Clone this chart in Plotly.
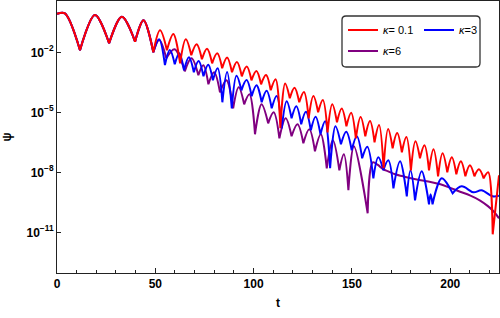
import plotly.graph_objects as go

# ---------------- data (t, log10 psi) ----------------
# "crest" = smooth points (maxima / smooth parts), "notch" = sharp minima of |psi|
red_crest_t = [0, 4.0, 19.3, 33.0, 44.0, 52.4, 59.2, 65.5, 71.0, 76.3, 81.5, 86.5, 91.5, 96.5,
               101.4, 106.3, 111.2, 116.0, 120.8, 125.6, 130.4, 135.2, 140.0, 144.8, 149.6,
               154.4, 159.2, 163.8, 168.4, 173.0, 177.7, 182.3, 186.9, 191.5, 196.1, 200.8,
               205.4, 210.0, 214.6, 219.3, 224.8]
red_crest_log = [-0.08, -0.05, -0.13, -0.22, -0.40, -0.90, -1.08, -1.35, -1.60, -1.82, -2.05,
                 -2.26, -2.48, -2.71, -2.93, -3.14, -3.35, -3.56, -3.77, -3.98, -4.19, -4.39,
                 -4.60, -4.81, -5.02, -5.23, -5.44, -5.64, -5.84, -6.04, -6.24, -6.45, -6.65,
                 -6.85, -7.05, -7.25, -7.45, -7.65, -7.85, -8.00, -8.15]
red_notch_t = [11.7, 26.5, 39.7, 49.0, 55.9, 62.6, 68.3, 73.7, 78.9, 84.0, 89.0, 94.0, 98.9,
               103.8, 108.7, 113.6, 118.4, 123.2, 128.0, 132.8, 137.6, 142.4, 147.2, 152.0,
               156.8, 161.5, 166.1, 170.7, 175.4, 180.0, 184.6, 189.2, 193.8, 198.5, 203.1,
               207.7, 212.3, 217.0, 221.6]
red_notch_log = [-1.90, -1.55, -1.47, -2.00, -1.90, -2.55, -2.15, -2.35, -2.55, -2.80, -3.00,
                 -3.20, -3.40, -3.60, -3.90, -5.80, -4.30, -4.50, -5.30, -5.00, -6.00, -5.50,
                 -5.70, -6.30, -6.20, -6.50, -7.80, -6.80, -7.00, -7.90, -7.30, -7.90, -8.20,
                 -8.00, -8.10, -8.20, -8.20, -8.30, -11.10]

blue_crest_t = [0, 4.0, 19.3, 33.0, 44.0, 51.9, 57.4, 62.2, 67.1, 72.0, 76.9, 81.7, 86.5, 91.3,
                96.4, 101.5, 106.6, 111.7, 116.8, 121.7, 126.6, 131.5, 136.4, 141.6, 147.1,
                152.5, 157.8, 163.4, 168.5, 174.5, 179.8, 185.5, 190.0, 195.7, 205.8, 211.8,
                215.9, 221.5, 224.8]
blue_crest_log = [-0.08, -0.05, -0.13, -0.22, -0.40, -1.35, -1.89, -2.05, -2.25, -2.43, -2.62,
                  -2.80, -2.99, -3.17, -3.39, -3.65, -3.92, -4.18, -4.45, -4.70, -4.97, -5.22,
                  -5.45, -5.70, -5.97, -6.20, -6.72, -7.25, -7.40, -7.45, -7.90, -7.95, -9.10,
                  -8.30, -8.70, -9.00, -8.90, -9.20, -9.17]
blue_notch_t = [11.7, 26.5, 39.7, 49.0, 54.9, 59.9, 64.6, 69.6, 74.5, 79.3, 84.1, 88.9, 93.8,
                99.0, 104.1, 109.2, 114.3, 119.3, 124.2, 129.1, 134.0, 138.9, 144.4, 149.9,
                155.2, 160.9, 166.0, 171.1, 177.9, 182.1, 189.2, 191.0, 201.2]
blue_notch_log = [-1.90, -1.55, -1.47, -2.00, -2.64, -2.60, -2.90, -3.00, -3.20, -3.40, -4.50,
                  -4.80, -3.90, -4.20, -4.50, -4.80, -5.80, -5.30, -5.60, -5.90, -6.10, -7.80,
                  -6.60, -6.90, -7.30, -8.30, -7.90, -8.80, -9.20, -9.40, -9.60, -9.60, -9.05]

purple_crest_t = [0, 4.0, 19.3, 33.0, 44.0, 52.0, 59.8, 68.4, 74.4, 79.9, 86.2, 92.4, 97.9,
                  104.0, 110.2, 116.3, 122.3, 128.3, 134.2, 140.3, 145.9, 151.0, 160.6, 163.0,
                  166.0, 168.5, 172.0, 176.0, 180.0, 185.0, 190.0, 195.0, 200.0, 205.0, 210.0,
                  215.0, 219.0, 222.0, 224.8]
purple_crest_log = [-0.08, -0.05, -0.13, -0.22, -0.40, -1.38, -1.85, -2.30, -2.65, -3.00, -3.40,
                    -3.75, -4.10, -4.60, -5.00, -5.30, -5.60, -5.85, -6.10, -6.40, -7.10, -6.70,
                    -7.50, -7.62, -7.85, -7.95, -8.10, -8.20, -8.30, -8.40, -8.48, -8.60, -8.78,
                    -8.97, -9.15, -9.40, -9.68, -9.95, -10.30]
purple_notch_t = [11.7, 26.5, 39.7, 49.0, 55.6, 65.0, 71.9, 77.0, 82.9, 89.6, 95.2, 100.7, 107.4,
                  113.1, 119.3, 125.3, 131.2, 137.2, 143.6, 148.2, 158.0]
purple_notch_log = [-1.90, -1.55, -1.47, -2.00, -2.30, -2.95, -3.15, -3.60, -4.00, -4.80, -4.60,
                    -6.10, -5.55, -6.30, -6.20, -6.55, -6.95, -7.80, -7.90, -8.90, -10.05]

y_tick_vals = [1e-2, 1e-5, 1e-8, 1e-11]
y_tick_text = ["10<sup>−2</sup>", "10<sup>−5</sup>", "10<sup>−8</sup>", "10<sup>−11</sup>"]
x_tick_vals = [0, 50, 100, 150, 200]
T_MAX = 224.8


def build(crest_t, crest_log, notch_t, notch_log):
    pts = [(t, v, 1) for t, v in zip(crest_t, crest_log)]
    pts += [(t, v, 2) for t, v in zip(notch_t, notch_log)]
    pts.sort()
    xs, ys = [], []
    for t, v, n in pts:
        # notches are given twice so that the spline meets them in a sharp cusp
        for _ in range(n):
            xs.append(t)
            ys.append(10 ** v)
    return xs, ys


series = [
    ("<i>κ</i>=6", "#800080", "legend2", build(purple_crest_t, purple_crest_log, purple_notch_t, purple_notch_log)),
    ("<i>κ</i>=3", "#0000ff", "legend", build(blue_crest_t, blue_crest_log, blue_notch_t, blue_notch_log)),
    ("<i>κ</i>= 0.1", "#ff0000", "legend", build(red_crest_t, red_crest_log, red_notch_t, red_notch_log)),
]

fig = go.Figure()
for name, color, lg, (xs, ys) in series:
    fig.add_trace(go.Scatter(x=xs, y=ys, mode="lines", name=name, legend=lg,
                             line=dict(color=color, width=2, shape="spline",
                                       smoothing=1, simplify=False)))

FONT = "Liberation Sans, Arial, sans-serif"
L, R, T, B = 57, 1, 1, 45
W, H = 500, 318
pw, ph = W - L - R, H - T - B


def px2paper(x, y):
    return (x - L) / pw, (H - B - y) / ph


# rounded legend frame
bx0, by0 = px2paper(342, 67)
bx1, by1 = px2paper(480, 16)
rx, ry = 4 / pw, 4 / ph
path = (f"M{bx0+rx},{by1} L{bx1-rx},{by1} Q{bx1},{by1} {bx1},{by1-ry} "
        f"L{bx1},{by0+ry} Q{bx1},{by0} {bx1-rx},{by0} L{bx0+rx},{by0} "
        f"Q{bx0},{by0} {bx0},{by0+ry} L{bx0},{by1-ry} Q{bx0},{by1} {bx0+rx},{by1} Z")

legend_common = dict(orientation="h", xanchor="left", yanchor="middle",
                     bgcolor="rgba(0,0,0,0)", entrywidth=31, entrywidthmode="pixels",
                     font=dict(family=FONT, size=11, color="black"))
l1x, l1y = px2paper(343, 30)
l2x, l2y = px2paper(343, 51)
fig.update_layout(
    width=W, height=H,
    margin=dict(l=L, r=R, t=T, b=B, autoexpand=False),
    plot_bgcolor="white", paper_bgcolor="white",
    font=dict(family=FONT, size=11, color="black"),
    showlegend=True,
    legend=dict(x=l1x, y=l1y, traceorder="reversed", **legend_common),
    legend2=dict(x=l2x, y=l2y, **legend_common),
    shapes=[dict(type="path", xref="paper", yref="paper", path=path,
                 line=dict(color="#333333", width=1.3), fillcolor="white", layer="below")],
)
fig.update_xaxes(range=[0, T_MAX], showline=True, linecolor="#222222", linewidth=1, mirror=True,
                 ticks="inside", ticklen=5, tickcolor="#222222", tickvals=x_tick_vals,
                 tickfont=dict(family=FONT, size=12, weight="bold"),
                 minor=dict(ticks="inside", ticklen=3, dtick=10, tick0=0, tickcolor="#222222"),
                 showgrid=False, zeroline=False,
                 title=dict(text="t", font=dict(family=FONT, size=12, weight="bold"), standoff=8))
fig.update_yaxes(type="log", range=[-13.035, 0.565], showline=True, linecolor="#222222",
                 linewidth=1, mirror=True, ticks="inside", ticklen=4, tickcolor="#222222",
                 tickvals=y_tick_vals, ticktext=y_tick_text,
                 tickfont=dict(family=FONT, size=12, weight="bold"),
                 showgrid=False, zeroline=False,
                 title=dict(text="ψ", font=dict(family=FONT, size=12, weight="bold"), standoff=14))

fig.write_html("out.html", config={"displayModeBar": False},
               post_script="document.body.style.margin='0';document.body.style.overflow='hidden';")
